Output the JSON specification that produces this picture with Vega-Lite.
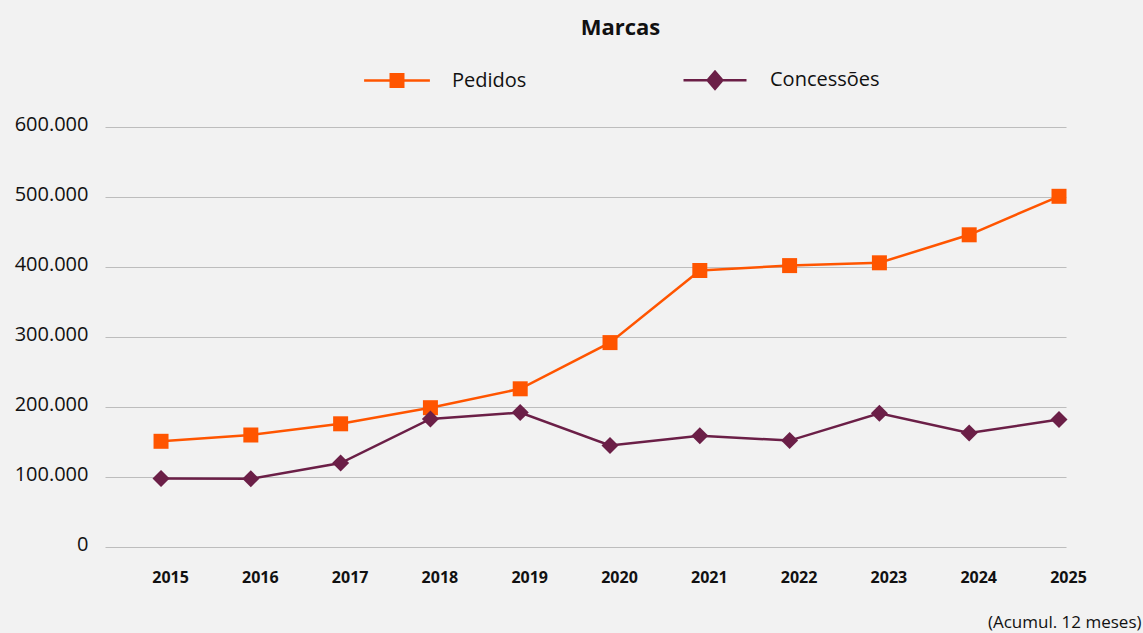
{
  "$schema": "https://vega.github.io/schema/vega-lite/v6.json",
  "autosize": "none",
  "width": 961,
  "height": 420,
  "padding": {"left": 105, "top": 127, "right": 77, "bottom": 86},
  "background": "#F2F2F2",
  "title": {
    "text": "Marcas",
    "font": "Open Sans",
    "fontSize": 22,
    "fontWeight": "bold",
    "color": "#111111",
    "anchor": "middle",
    "frame": "group",
    "dx": 35,
    "offset": 30
  },
  "config": {
    "view": {"stroke": null},
    "font": "Open Sans"
  },
  "data": {
    "values": [
      {"ano": 2015, "serie": "Pedidos", "valor": 151000},
      {"ano": 2016, "serie": "Pedidos", "valor": 160000},
      {"ano": 2017, "serie": "Pedidos", "valor": 176000},
      {"ano": 2018, "serie": "Pedidos", "valor": 199000},
      {"ano": 2019, "serie": "Pedidos", "valor": 226000},
      {"ano": 2020, "serie": "Pedidos", "valor": 292000},
      {"ano": 2021, "serie": "Pedidos", "valor": 395000},
      {"ano": 2022, "serie": "Pedidos", "valor": 402000},
      {"ano": 2023, "serie": "Pedidos", "valor": 406000},
      {"ano": 2024, "serie": "Pedidos", "valor": 446000},
      {"ano": 2025, "serie": "Pedidos", "valor": 501000},
      {"ano": 2015, "serie": "Concessões", "valor": 98000},
      {"ano": 2016, "serie": "Concessões", "valor": 97500},
      {"ano": 2017, "serie": "Concessões", "valor": 120000},
      {"ano": 2018, "serie": "Concessões", "valor": 183000},
      {"ano": 2019, "serie": "Concessões", "valor": 192000},
      {"ano": 2020, "serie": "Concessões", "valor": 145000},
      {"ano": 2021, "serie": "Concessões", "valor": 159000},
      {"ano": 2022, "serie": "Concessões", "valor": 152000},
      {"ano": 2023, "serie": "Concessões", "valor": 191000},
      {"ano": 2024, "serie": "Concessões", "valor": 163000},
      {"ano": 2025, "serie": "Concessões", "valor": 182000}
    ]
  },
  "encoding": {
    "x": {
      "field": "ano",
      "type": "quantitative",
      "scale": {"domain": [2014.376, 2025.078], "nice": false, "zero": false},
      "axis": {
        "values": [2015, 2016, 2017, 2018, 2019, 2020, 2021, 2022, 2023, 2024, 2025],
        "format": "d",
        "grid": false,
        "domain": false,
        "ticks": false,
        "labelFont": "Open Sans",
        "labelFontSize": 16,
        "labelFontWeight": "bold",
        "labelColor": "#111111",
        "labelPadding": 22,
        "labelOffset": 9,
        "title": "(Acumul. 12 meses)",
        "titleFont": "Open Sans",
        "titleFontSize": 17,
        "titleFontWeight": "normal",
        "titleColor": "#111111",
        "titleAlign": "right",
        "titleBaseline": "middle",
        "titleX": 1036,
        "titleY": 75
      }
    },
    "y": {
      "field": "valor",
      "type": "quantitative",
      "scale": {"domain": [0, 600000], "nice": false},
      "axis": {
        "values": [0, 100000, 200000, 300000, 400000, 500000, 600000],
        "labelExpr": "replace(format(datum.value, ','), ',', '.')",
        "grid": true,
        "gridColor": "#BDBDBD",
        "gridWidth": 1,
        "domain": false,
        "ticks": false,
        "labelFont": "Open Sans",
        "labelFontSize": 20,
        "labelColor": "#111111",
        "labelPadding": 17,
        "labelBaseline": "middle",
        "labelOffset": -3,
        "title": null
      }
    }
  },
  "resolve": {"scale": {"color": "independent", "shape": "independent"}},
  "layer": [
    {
      "mark": {"type": "line", "strokeWidth": 2.5},
      "encoding": {
        "color": {
          "field": "serie",
          "type": "nominal",
          "scale": {"domain": ["Pedidos", "Concessões"], "range": ["#FF5500", "#6B1F47"]},
          "legend": null
        }
      }
    },
    {
      "mark": {"type": "point", "filled": true, "opacity": 1},
      "encoding": {
        "color": {
          "field": "serie",
          "type": "nominal",
          "scale": {"domain": ["Pedidos", "Concessões"], "range": ["#FF5500", "#6B1F47"]},
          "legend": null
        },
        "shape": {
          "field": "serie",
          "type": "nominal",
          "scale": {"domain": ["Pedidos", "Concessões"], "range": ["square", "diamond"]},
          "legend": null
        },
        "size": {
          "field": "serie",
          "type": "nominal",
          "scale": {"domain": ["Pedidos", "Concessões"], "range": [225, 290]},
          "legend": null
        }
      }
    },
    {
      "transform": [{"filter": "datum.valor < 0"}],
      "mark": {"type": "point", "filled": true, "opacity": 1},
      "encoding": {
        "color": {
          "field": "serie",
          "type": "nominal",
          "scale": {"domain": ["Pedidos", "Concessões"], "range": ["#FF5500", "#6B1F47"]},
          "legend": {
            "title": null,
            "orient": "none",
            "direction": "horizontal",
            "legendX": 282,
            "legendY": -57,
            "padding": 0,
            "symbolSize": 196,
            "symbolStrokeWidth": 0,
            "labelOffset": 45,
            "columnPadding": 156,
            "labelFont": "Open Sans",
            "labelFontSize": 20,
            "labelColor": "#111111"
          }
        },
        "shape": {
          "field": "serie",
          "type": "nominal",
          "scale": {"domain": ["Pedidos", "Concessões"], "range": ["M-4.7,-0.18H4.7V0.18H-4.7Z M-1.07,-1.07H1.07V1.07H-1.07Z", "M-4.5,-0.18H4.5V0.18H-4.5Z M0,-1.5L1.29,0L0,1.5L-1.29,0Z"]}
        }
      }
    }
  ]
}
